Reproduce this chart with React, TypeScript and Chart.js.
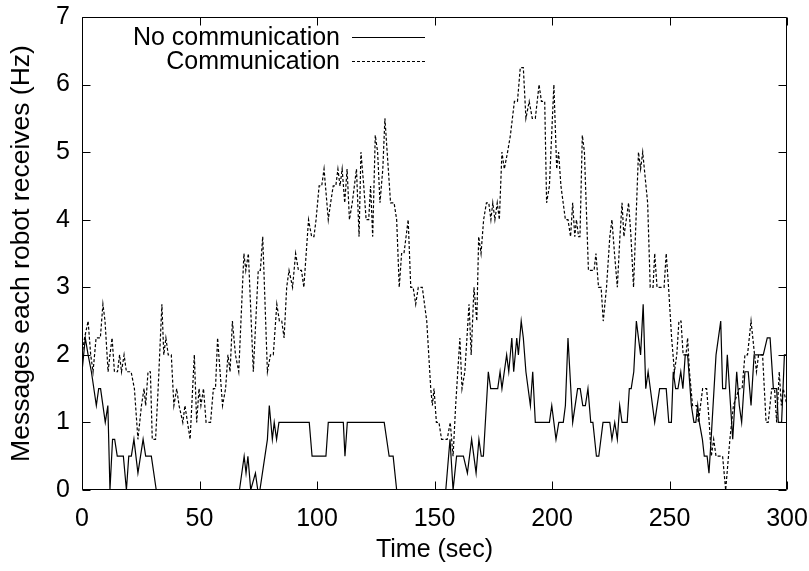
import { useEffect, useRef } from 'react';
import { Chart, registerables } from 'chart.js';

Chart.register(...registerables);

const seriesLabels = ['No communication', 'Communication'];
const xTitle = 'Time (sec)';
const yTitle = 'Messages each robot receives (Hz)';
const xTicks = [0, 50, 100, 150, 200, 250, 300];
const yTicks = [0, 1, 2, 3, 4, 5, 6, 7];

const noCommT = [
  0, 1.4, 2.6, 4.0, 6.1, 7.1, 7.9, 9.9, 11.0, 11.9, 13.0, 13.9, 15.0, 17.6, 18.9, 19.9, 21.0, 22.1, 23.8, 26.0,
  27.1, 29.5, 31.6, 67.0, 69.0, 69.8, 70.6, 71.8, 73.8, 74.8, 75.7, 78.9, 79.7, 81.0, 81.8, 82.8, 83.8, 96.7, 97.9, 103.8,
  104.8, 111.2, 111.9, 112.9, 128.6, 130.7, 132.4, 133.9, 154.8, 156.6, 157.9, 159.4, 162.3, 164.0, 165.8, 167.7, 168.9, 169.9, 170.8, 172.9,
  173.9, 176.9, 177.9, 178.7, 180.7, 181.6, 182.9, 183.7, 185.0, 185.7, 186.9, 187.8, 188.9, 190.8, 191.8, 192.9, 198.9, 199.9, 201.7, 202.9,
  204.8, 205.7, 206.8, 208.8, 210.9, 212.0, 213.1, 214.2, 215.3, 216.5, 217.4, 218.9, 219.9, 221.7, 224.6, 225.5, 226.7, 227.8, 228.8, 229.8,
  232.0, 232.9, 233.7, 234.8, 235.9, 237.7, 238.8, 239.9, 240.9, 243.7, 245.8, 248.6, 249.7, 250.8, 251.6, 252.6, 253.6, 254.8, 255.7, 256.7,
  257.7, 259.3, 260.4, 261.2, 262.0, 262.7, 264.0, 264.8, 266.0, 266.8, 267.7, 269.8, 271.8, 272.6, 273.9, 274.6, 276.9, 278.6, 279.7, 280.7,
  282.1, 283.5, 284.7, 286.0, 289.9, 291.6, 292.8, 294.2, 295.6, 296.3, 297.7, 298.9, 300
];
const noCommV = [
  1.75, 2.25, 2.0, 1.75, 1.25, 1.5, 1.5, 1.0, 1.25, 0, 0.75, 0.75, 0.5, 0.5, 0, 0.5, 0.5, 0.75, 0.25, 0.75,
  0.5, 0.5, 0, 0, 0.5, 0.25, 0.5, 0, 0.25, 0, 0, 0.75, 1.25, 0.75, 1.0, 0.75, 1.0, 1.0, 0.5, 0.5,
  1.0, 1.0, 0.5, 1.0, 1.0, 0.5, 0.5, 0, 0, 0.75, 0, 0.5, 0.5, 0.25, 0.75, 0.25, 0.75, 0.5, 0.5, 1.75,
  1.5, 1.5, 1.75, 1.5, 2.0, 1.75, 2.25, 1.75, 2.25, 2.0, 2.5, 2.25, 1.75, 1.25, 1.75, 1.0, 1.0, 1.25, 0.75, 1.0,
  1.0, 1.25, 2.25, 1.0, 1.5, 1.5, 1.25, 1.25, 1.5, 1.0, 1.0, 0.5, 0.5, 1.0, 1.0, 0.75, 1.0, 0.75, 1.25, 1.0,
  1.0, 1.5, 1.5, 1.75, 2.5, 2.0, 2.75, 1.5, 1.75, 1.0, 1.5, 1.5, 1.0, 1.0, 1.75, 1.5, 1.5, 1.75, 1.5, 2.0,
  2.0, 1.25, 1.0, 1.0, 1.25, 1.0, 0.75, 0.5, 0.5, 0.25, 0.75, 2.0, 2.5, 1.5, 1.5, 2.0, 0.75, 1.75, 1.25, 1.0,
  1.75, 1.75, 1.25, 2.0, 2.0, 2.25, 2.25, 1.5, 1.5, 1.0, 1.0, 2.0, 2.0
];

const commT = [
  0, 1.1, 2.6, 3.7, 4.7, 6.0, 7.8, 8.9, 9.8, 11.1, 11.9, 12.8, 13.8, 15.1, 16.0, 16.8, 17.9, 18.9, 20.9, 22.3,
  23.8, 25.3, 26.4, 27.1, 28.1, 29.1, 29.9, 31.3, 32.4, 34.0, 34.8, 35.7, 36.7, 38.0, 39.1, 40.3, 41.3, 42.9, 43.8, 44.9,
  46.0, 47.8, 48.8, 49.8, 50.6, 51.7, 52.8, 54.7, 55.9, 56.8, 57.7, 59.8, 61.1, 62.1, 63.0, 64.0, 65.3, 66.7, 68.9, 69.7,
  70.8, 72.9, 75.0, 75.9, 76.9, 78.9, 80.2, 81.4, 82.9, 84.0, 85.0, 86.0, 87.1, 88.1, 89.6, 90.9, 92.1, 93.4, 94.4, 96.4,
  97.7, 98.7, 99.6, 100.9, 102.0, 103.0, 104.8, 105.8, 106.9, 108.0, 108.9, 109.8, 110.7, 111.8, 112.8, 113.8, 115.0, 115.9, 116.8, 117.9,
  118.7, 119.9, 120.9, 122.0, 122.8, 123.7, 124.8, 125.8, 126.8, 128.0, 128.9, 131.3, 132.8, 133.9, 135.0, 136.0, 137.0, 138.8, 139.9, 140.9,
  142.0, 143.1, 144.8, 146.7, 148.4, 149.1, 149.8, 150.8, 151.9, 153.0, 155.4, 156.7, 157.9, 159.0, 160.8, 161.7, 162.9, 164.7, 165.6, 166.8,
  168.0, 168.8, 169.8, 170.9, 172.1, 173.1, 174.0, 174.8, 175.7, 176.7, 177.6, 178.7, 179.7, 181.1, 182.3, 184.0, 185.3, 186.5, 187.8, 188.9,
  190.3, 191.6, 192.9, 194.5, 195.5, 196.9, 197.7, 198.9, 200.8, 202.0, 202.8, 203.8, 205.7, 206.8, 207.9, 208.8, 209.7, 210.4, 211.3, 211.9,
  212.9, 213.8, 215.5, 217.9, 218.7, 219.8, 220.9, 221.8, 223.2, 224.6, 225.5, 226.6, 227.8, 228.9, 229.8, 230.6, 231.6, 232.6, 233.6, 234.7,
  236.8, 237.7, 238.6, 240.7, 241.8, 243.0, 243.7, 244.7, 247.7, 248.6, 249.6, 250.9, 252.1, 253.1, 254.0, 254.9, 255.8, 257.0, 257.7, 258.5,
  259.8, 261.6, 262.3, 263.2, 264.1, 265.8, 266.9, 267.8, 268.8, 269.8, 272.6, 273.9, 275.7, 277.2, 279.6, 280.9, 282.1, 283.2, 284.7, 286.2,
  287.0, 287.9, 289.6, 291.1, 292.0, 293.5, 294.7, 295.6, 296.7, 297.6, 298.4, 300
];
const commV = [
  2.0, 2.25, 2.5, 2.0, 1.75, 2.25, 2.25, 2.75, 2.5, 1.75, 2.0, 2.25, 1.75, 1.75, 2.0, 1.75, 2.0, 1.75, 1.75, 1.5,
  0.75, 1.25, 1.5, 1.25, 1.75, 1.75, 0.75, 0.75, 1.5, 2.75, 2.0, 2.25, 2.0, 2.0, 1.25, 1.5, 1.25, 1.0, 1.25, 1.0,
  0.75, 2.0, 1.0, 1.5, 1.25, 1.5, 1.0, 1.0, 1.5, 1.5, 2.25, 1.25, 1.5, 2.0, 1.75, 2.5, 2.0, 1.75, 3.5, 3.25,
  3.5, 1.75, 3.25, 3.25, 3.75, 1.75, 2.0, 2.0, 2.75, 2.5, 2.5, 2.25, 3.0, 3.25, 3.0, 3.5, 3.25, 3.25, 3.0, 4.0,
  3.75, 3.75, 4.0, 4.5, 4.5, 4.75, 4.0, 4.25, 4.5, 4.5, 4.75, 4.5, 4.75, 4.25, 4.75, 4.0, 4.25, 4.5, 4.75, 3.75,
  5.0, 4.5, 4.0, 4.0, 4.5, 3.75, 5.25, 5.0, 4.25, 4.75, 5.5, 4.25, 4.25, 4.0, 3.0, 3.5, 3.5, 4.0, 3.0, 3.0,
  2.75, 3.0, 3.0, 2.5, 1.5, 1.25, 1.5, 1.0, 1.0, 0.75, 0.75, 1.0, 0.5, 1.25, 2.25, 1.5, 1.75, 2.75, 2.0, 3.0,
  2.5, 3.75, 3.5, 4.0, 4.25, 4.25, 4.0, 4.25, 4.0, 4.25, 4.0, 5.0, 4.75, 5.0, 5.25, 5.75, 5.75, 6.25, 6.25, 5.5,
  5.75, 5.5, 5.5, 6.0, 5.75, 5.75, 4.25, 4.5, 6.0, 4.75, 5.0, 4.5, 4.0, 4.0, 3.75, 4.25, 3.75, 4.0, 3.75, 3.75,
  5.25, 5.0, 3.25, 3.25, 3.5, 3.0, 3.0, 2.5, 3.0, 3.75, 4.0, 3.5, 3.0, 3.75, 4.25, 3.75, 4.0, 4.25, 3.75, 3.0,
  5.0, 4.75, 5.0, 4.25, 3.0, 3.0, 3.5, 3.0, 3.0, 3.5, 3.0, 2.25, 1.75, 2.0, 2.5, 2.5, 2.0, 2.0, 2.25, 1.75,
  1.25, 1.25, 1.0, 1.25, 1.5, 1.5, 1.0, 0.5, 0.75, 0.5, 0.5, 0, 0.75, 1.25, 1.5, 1.5, 2.0, 2.0, 2.5, 2.0,
  1.75, 2.0, 2.0, 1.0, 1.0, 1.5, 1.5, 1.0, 1.75, 1.25, 1.5, 1.25
];

const FONT_FAMILY = '"Liberation Sans", Arial, Helvetica, sans-serif';
const FONT_SIZE = 25;
const Y_TITLE_SIZE = 26.5;
const DASH = [3, 2];
const LINE_W = 1.2;

const zeroEdgePadding = (s: any) => {
  s.paddingTop = 0;
  s.paddingBottom = 0;
  s.paddingLeft = 0;
  s.paddingRight = 0;
};

const framePlugin = {
  id: 'gnuplotFrame',
  afterDatasetsDraw(chart: any) {
    const { ctx, chartArea, scales } = chart;
    const xs = scales.x;
    const ys = scales.y;
    const L = Math.round(chartArea.left) + 0.5;
    const R = Math.round(chartArea.right) - 0.5;
    const T = Math.round(chartArea.top) + 0.5;
    const B = Math.round(chartArea.bottom) - 0.5;
    const tl = 8;
    ctx.save();
    ctx.strokeStyle = '#000';
    ctx.lineWidth = 1;
    ctx.setLineDash([]);
    ctx.beginPath();
    ctx.rect(L, T, R - L, B - T);
    xTicks.forEach((v) => {
      const px = Math.round(xs.getPixelForValue(v)) + 0.5;
      ctx.moveTo(px, B);
      ctx.lineTo(px, B - tl);
      ctx.moveTo(px, T);
      ctx.lineTo(px, T + tl);
    });
    yTicks.forEach((v) => {
      const py = Math.round(ys.getPixelForValue(v)) + 0.5;
      ctx.moveTo(L, py);
      ctx.lineTo(L + tl, py);
      ctx.moveTo(R, py);
      ctx.lineTo(R - tl, py);
    });
    ctx.stroke();

    // legend (gnuplot style: right-aligned text, sample on the right)
    const textRight = 340;
    const sx0 = 352;
    const sx1 = 425;
    const rows = [37.5, 61.5];
    ctx.font = `${FONT_SIZE}px ${FONT_FAMILY}`;
    ctx.fillStyle = '#000';
    ctx.textAlign = 'right';
    ctx.textBaseline = 'middle';
    chart.data.datasets.forEach((ds: any, i: number) => {
      const y = rows[i];
      ctx.fillText(ds.label, textRight, y + 1);
      ctx.beginPath();
      ctx.setLineDash(ds.borderDash || []);
      ctx.lineWidth = 1;
      ctx.moveTo(sx0, y);
      ctx.lineTo(sx1, y);
      ctx.stroke();
    });
    ctx.restore();
  },
};

export default function App() {
  const canvasRef = useRef<HTMLCanvasElement | null>(null);

  useEffect(() => {
    const canvas = canvasRef.current;
    if (!canvas) return;
    const font = { family: FONT_FAMILY, size: FONT_SIZE };
    const chart = new Chart(canvas, {
      type: 'line',
      data: {
        datasets: [
          {
            label: seriesLabels[0],
            data: noCommT.map((t, i) => ({ x: t, y: noCommV[i] })),
            borderColor: '#000',
            borderWidth: LINE_W,
            pointRadius: 0,
            tension: 0,
            fill: false,
          },
          {
            label: seriesLabels[1],
            data: commT.map((t, i) => ({ x: t, y: commV[i] })),
            borderColor: '#000',
            borderWidth: LINE_W,
            borderDash: DASH,
            pointRadius: 0,
            tension: 0,
            fill: false,
          },
        ],
      },
      options: {
        animation: false,
        responsive: false,
        devicePixelRatio: 1,
        layout: { padding: { left: 0, top: 17, right: 22, bottom: 0 } },
        plugins: { legend: { display: false }, tooltip: { enabled: false } },
        scales: {
          x: {
            type: 'linear',
            min: 0,
            max: 300,
            afterBuildTicks: (s: any) => {
              s.ticks = xTicks.map((v) => ({ value: v }));
            },
            afterFit: (s: any) => {
              s.height = 81;
              zeroEdgePadding(s);
            },
            grid: { display: false, drawTicks: false },
            border: { display: false },
            ticks: { color: '#000', font, padding: 14, maxRotation: 0, autoSkip: false },
            title: { display: true, text: xTitle, color: '#000', font, padding: { top: 0, bottom: 6 } },
          },
          y: {
            type: 'linear',
            min: 0,
            max: 7,
            afterBuildTicks: (s: any) => {
              s.ticks = yTicks.map((v) => ({ value: v }));
            },
            afterFit: (s: any) => {
              s.width = 82;
              zeroEdgePadding(s);
            },
            grid: { display: false, drawTicks: false },
            border: { display: false },
            ticks: { color: '#000', font, padding: 12, autoSkip: false },
            title: {
              display: true,
              text: yTitle,
              color: '#000',
              font: { family: FONT_FAMILY, size: Y_TITLE_SIZE },
              padding: { top: 6, bottom: 0 },
            },
          },
        },
      },
      plugins: [framePlugin],
    });
    return () => chart.destroy();
  }, []);

  return (
    <div style={{ position: 'absolute', left: 0, top: 0, width: 809, height: 571, background: '#fff' }}>
      <canvas ref={canvasRef} width={809} height={571} style={{ display: 'block' }} />
    </div>
  );
}
